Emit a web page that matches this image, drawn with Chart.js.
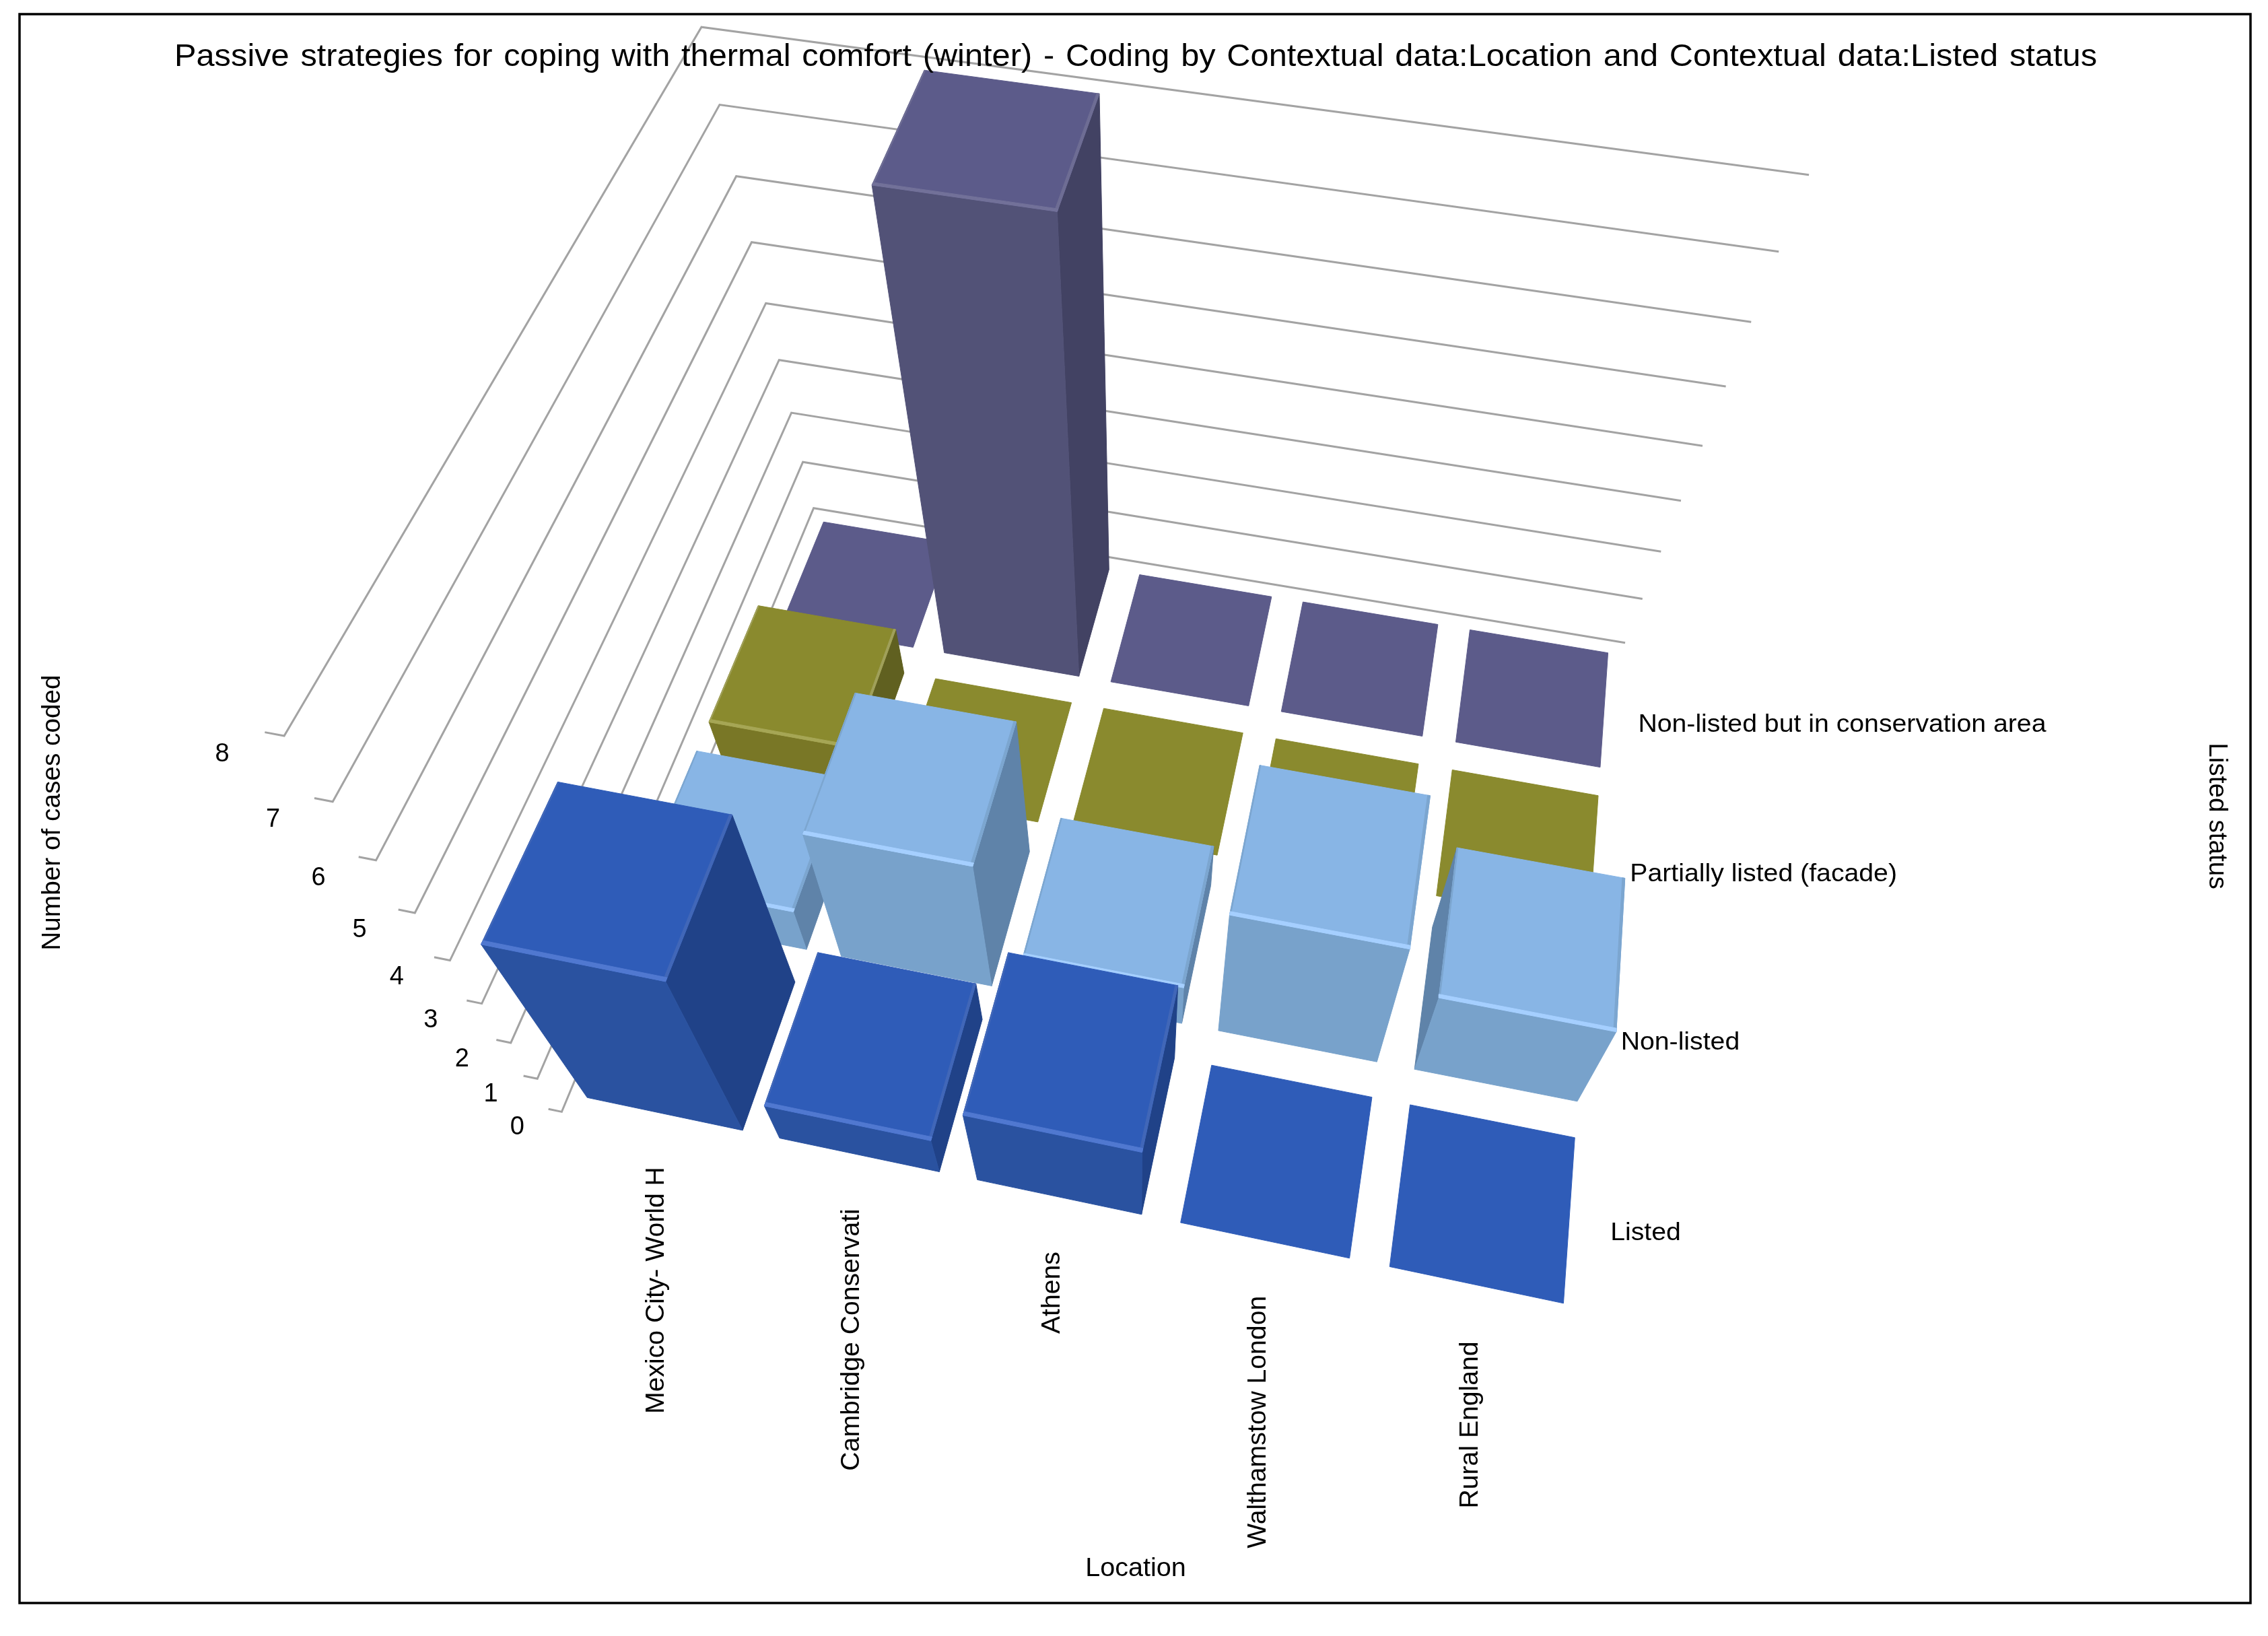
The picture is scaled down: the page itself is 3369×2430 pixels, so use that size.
<!DOCTYPE html>
<html>
<head>
<meta charset="utf-8">
<script src="https://cdn.jsdelivr.net/npm/chart.js@4/dist/chart.umd.min.js"></script>
<style>
body { margin: 0; background: #fff; }
</style>
</head>
<body>
<canvas id="chart" width="3369" height="2430"></canvas>
<script>
const locations = ['Mexico City- World H', 'Cambridge Conservati', 'Athens', 'Walthamstow London', 'Rural England'];
const statuses = ['Listed', 'Non-listed', 'Partially listed (facade)', 'Non-listed but in conservation area'];
const valueTicks = [0, 1, 2, 3, 4, 5, 6, 7, 8];

const listed = [4, 1, 2, 0, 0];
const nonListed = [1, 3, 1, 3, 2];
const partiallyListed = [1, 0, 0, 0, 0];
const conservationArea = [0, 8, 0, 0, 0];
const rows = [listed, nonListed, partiallyListed, conservationArea];

const palette = [
    { top: '#2f5cb8', front: '#2a52a0', side: '#204288', edge: '#5078d0', rim: '#4167b8' },
    { top: '#88b5e5', front: '#78a2cb', side: '#5f83a9', edge: '#a5cfff', rim: '#7ca6d0' },
    { top: '#8a8a2e', front: '#797726', side: '#606020', edge: '#a6a655', rim: '#a0a05a' },
    { top: '#5c5b8a', front: '#525277', side: '#424263', edge: '#727199', rim: '#6e6d94' }
];

// perspective of the original 3D view: (location, status, count) -> chart units
const camera = [
    [271.432611, 172.660784, -68.7379757, 834.421237],
    [37.5466146, -174.779223, -114.323598, 1651.36033],
    [-0.0135771773, 0.0654562405, -0.0407456705, 1]
];

function project(u, v, h){
    const w = camera[2][0]*u + camera[2][1]*v + camera[2][2]*h + camera[2][3];
    return {
        x: (camera[0][0]*u + camera[0][1]*v + camera[0][2]*h + camera[0][3]) / w,
        y: (camera[1][0]*u + camera[1][1]*v + camera[1][2]*h + camera[1][3]) / w
    };
}

// camera position in chart units, decides which bar sides show
function cameraSpot(){
    const c = camera;
    const det3 = (a,b,d) => a[0]*(b[1]*d[2]-b[2]*d[1]) - b[0]*(a[1]*d[2]-a[2]*d[1]) + d[0]*(a[1]*b[2]-a[2]*b[1]);
    const col = i => [c[0][i], c[1][i], c[2][i]];
    const rhs = col(3).map(n => -n);
    const d = det3(col(0), col(1), col(2));
    return { u: det3(rhs, col(1), col(2)) / d, v: det3(col(0), rhs, col(2)) / d };
}
const eye = cameraSpot();

const datasets = [];

function addShape(points, fillColor){
    const closed = points.concat([points[0]]);
    datasets.push({
        data: closed,
        showLine: true,
        fill: 'shape',
        backgroundColor: fillColor,
        borderColor: fillColor,
        borderWidth: 1,
        pointRadius: 0
    });
}

function addGridLine(value){
    datasets.push({
        data: [project(-0.07, 0, value), project(0, 0, value), project(0, 4, value), project(5, 4, value)],
        showLine: true,
        fill: false,
        borderColor: '#a3a3a3',
        borderWidth: 3,
        pointRadius: 0
    });
}

function addBar(col, row, value){
    const c = palette[row];
    const u0 = col + 0.095, u1 = col + 0.905, v0 = row + 0.095, v1 = row + 0.905;
    const rimFront = 0.018, rimRight = 0.012, rimLeft = 0.005;
    if(value > 0){
        if(u1 < eye.u) addShape([project(u1,v0,value), project(u1,v1,value), project(u1,v1,0), project(u1,v0,0)], c.side);
        if(u0 > eye.u) addShape([project(u0,v0,value), project(u0,v1,value), project(u0,v1,0), project(u0,v0,0)], c.side);
        addShape([project(u0,v0,value), project(u1,v0,value), project(u1,v0,0), project(u0,v0,0)], c.front);
    }
    addShape([project(u0,v0,value), project(u1,v0,value), project(u1,v1,value), project(u0,v1,value)], c.top);
    if(value > 0){
        addShape([project(u1-rimRight,v0,value), project(u1,v0,value), project(u1,v1,value), project(u1-rimRight,v1,value)], c.rim);
        addShape([project(u0,v0,value), project(u0+rimLeft,v0,value), project(u0+rimLeft,v1,value), project(u0,v1,value)], c.rim);
        addShape([project(u0,v0,value), project(u1,v0,value), project(u1,v0+rimFront,value), project(u0,v0+rimFront,value)], c.edge);
    }
}

valueTicks.forEach(addGridLine);

// back row first, then columns from far to near the camera
for(let row = rows.length - 1; row >= 0; row--){
    const order = locations.map((name, i) => i).sort((a, b) => Math.abs(b + 0.5 - eye.u) - Math.abs(a + 0.5 - eye.u));
    order.forEach(col => addBar(col, row, rows[row][col]));
}

// chart.js paints the first dataset last
datasets.reverse();

const labelsPlugin = {
    id: 'labels',
    afterDraw(chart){
        const ctx = chart.ctx;
        const sx = chart.scales.x, sy = chart.scales.y;
        const text = (str, x, y, size, align, angle, stretch, wordGap) => {
            ctx.save();
            ctx.translate(x, y);
            ctx.rotate(angle || 0);
            ctx.font = size + 'px "Liberation Sans"';
            ctx.fillStyle = '#000';
            ctx.textAlign = align;
            ctx.textBaseline = 'middle';
            if(wordGap) ctx.wordSpacing = wordGap + 'px';
            ctx.scale(stretch || 1, 1);
            ctx.fillText(str, 0, 0);
            ctx.restore();
        };
        ctx.save();
        ctx.strokeStyle = '#000';
        ctx.lineWidth = 3.5;
        ctx.strokeRect(29, 21, 3314, 2360);
        ctx.restore();

        text('Passive strategies for coping with thermal comfort (winter) - Coding by Contextual data:Location and Contextual data:Listed status', 1687, 85, 46, 'center', 0, 1.06, 3);
        text('Number of cases coded', 79, 1207, 38, 'center', -Math.PI / 2, 1.02);
        text('Listed status', 3292, 1212, 38, 'center', Math.PI / 2, 1.02);
        text('Location', 1687, 2331, 38, 'center', 0, 1.04);

        valueTicks.forEach(v => {
            const p = project(0, 0, v);
            text(String(v), sx.getPixelForValue(p.x) - 66 - 3.25 * v, sy.getPixelForValue(p.y) + 23 + 0.6 * v, 38, 'center');
        });
        locations.forEach((name, i) => {
            const p = project(i + 0.56 - 0.015 * i, -0.165, 0);
            text(name, sx.getPixelForValue(p.x), sy.getPixelForValue(p.y), 38, 'right', -Math.PI / 2, 1.03);
        });
        statuses.forEach((name, j) => {
            const p = project(5.1, j + 0.485 - 0.012 * j, 0);
            text(name, sx.getPixelForValue(p.x), sy.getPixelForValue(p.y) + 5, 37, 'left', 0, 1.06);
        });
    }
};

new Chart(document.getElementById('chart'), {
    type: 'scatter',
    data: { datasets: datasets },
    plugins: [labelsPlugin],
    options: {
        responsive: false,
        animation: false,
        layout: { padding: 0 },
        scales: {
            x: { type: 'linear', min: 0, max: 3369, display: false },
            y: { type: 'linear', min: 0, max: 2430, reverse: true, display: false }
        },
        plugins: {
            legend: { display: false },
            tooltip: { enabled: false },
            filler: { drawTime: 'beforeDatasetDraw' }
        }
    }
});
</script>
</body>
</html>
